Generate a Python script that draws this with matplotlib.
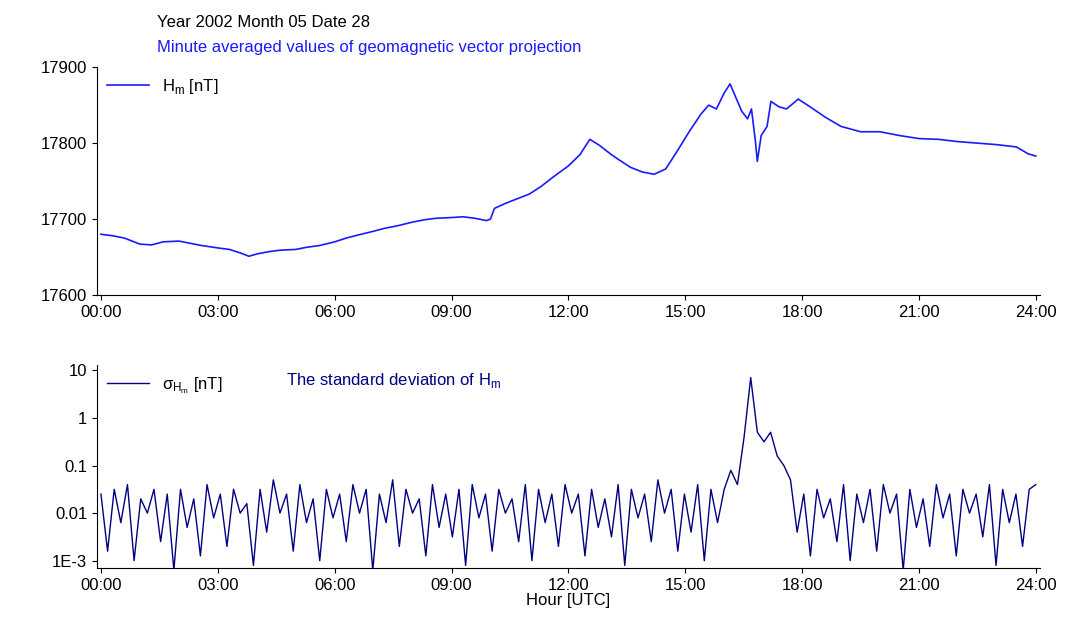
import matplotlib.pyplot as plt
import numpy as np

plt.rcParams['font.family'] = ['Liberation Sans', 'DejaVu Sans']

# top panel: H component, key readings (hour, nT)
h_hours = [0, 0.3, 0.6, 1, 1.3, 1.6, 2, 2.3, 2.6, 3, 3.3, 3.6, 3.8, 4, 4.3, 4.6, 5, 5.3, 5.6, 6,
           6.3, 6.6, 7, 7.3, 7.6, 8, 8.3, 8.6, 9, 9.3, 9.6, 9.9, 10.0, 10.1, 10.4, 10.7, 11, 11.3,
           11.6, 12, 12.3, 12.55, 12.8, 13.1, 13.3, 13.6, 13.9, 14.2, 14.5, 14.8, 15.1, 15.4,
           15.6, 15.8, 16.0, 16.15, 16.3, 16.45, 16.6, 16.7, 16.8, 16.85, 16.95, 17.1, 17.2,
           17.4, 17.6, 17.9, 18.2, 18.6, 19, 19.5, 20, 20.5, 21, 21.5, 22, 22.5, 23, 23.5, 23.8, 24]
h_vals = [17680, 17678, 17675, 17667, 17666, 17670, 17671, 17668, 17665, 17662, 17660, 17655,
          17651, 17654, 17657, 17659, 17660, 17663, 17665, 17670, 17675, 17679, 17684, 17688,
          17691, 17696, 17699, 17701, 17702, 17703, 17701, 17698, 17700, 17714, 17721, 17727,
          17733, 17743, 17755, 17770, 17785, 17805, 17797, 17785, 17778, 17768, 17762, 17759,
          17766, 17790, 17815, 17838, 17850, 17845, 17866, 17878, 17860, 17842, 17832, 17845,
          17803, 17776, 17810, 17822, 17855, 17848, 17845, 17858, 17848, 17834, 17822, 17815,
          17815, 17810, 17806, 17805, 17802, 17800, 17798, 17795, 17786, 17783]

# bottom panel: standard deviation, log10 readings every 10 min
sd_log = [-1.6, -2.8, -1.5, -2.2, -1.4, -3.0, -1.7, -2.0, -1.5, -2.6, -1.6, -3.2, -1.5, -2.3,
          -1.7, -2.9, -1.4, -2.1, -1.6, -2.7, -1.5, -2.0, -1.8, -3.1, -1.5, -2.4, -1.3, -2.0,
          -1.6, -2.8, -1.4, -2.2, -1.7, -3.0, -1.5, -2.1, -1.6, -2.6, -1.4, -2.0, -1.5, -3.2,
          -1.6, -2.2, -1.3, -2.7, -1.5, -2.0, -1.7, -2.9, -1.4, -2.3, -1.6, -2.5, -1.5, -3.1,
          -1.4, -2.1, -1.6, -2.8, -1.5, -2.0, -1.7, -2.6, -1.4, -3.0, -1.5, -2.2, -1.6, -2.7,
          -1.4, -2.0, -1.6, -2.9, -1.5, -2.3, -1.7, -2.5, -1.4, -3.1, -1.5, -2.1, -1.6, -2.6,
          -1.3, -2.0, -1.5, -2.8, -1.6, -2.4, -1.4, -3.0, -1.5, -2.2,
          -1.5, -1.1, -1.4, -0.4, 0.85, -0.3, -0.5, -0.3, -0.8, -1.0, -1.3, -2.4, -1.6, -2.9,
          -1.5, -2.1, -1.7, -2.6, -1.4, -3.0, -1.6, -2.2, -1.5, -2.8, -1.4, -2.0, -1.6, -3.2,
          -1.5, -2.3, -1.7, -2.7, -1.4, -2.1, -1.6, -2.9, -1.5, -2.0, -1.6, -2.5, -1.4, -3.1,
          -1.5, -2.2, -1.6, -2.7, -1.5, -1.4]

ticks = np.arange(0, 25, 3)
tick_labels = ['%02d:00' % t for t in ticks]

fig = plt.figure(figsize=(10.7, 6.31), dpi=100)
ax1 = fig.add_axes([0.0907, 0.5325, 0.881, 0.361])
ax2 = fig.add_axes([0.0907, 0.0998, 0.881, 0.3217])

ax1.plot(h_hours, h_vals, color='#1a1aff', lw=1.2, label=r'H$_{\mathregular{m}}$ [nT]')
ax1.set_ylim(17600, 17900)
ax1.set_yticks([17600, 17700, 17800, 17900])

sd_hours = np.linspace(0, 24, len(sd_log))
ax2.plot(sd_hours, 10 ** np.array(sd_log), color='#000080', lw=1.0,
         label=r'$\mathregular{\sigma_{H_m}}$ [nT]')
ax2.set_yscale('log')
ax2.set_ylim(7e-4, 13)
ax2.set_yticks([1e-3, 1e-2, 1e-1, 1, 10])
ax2.set_yticklabels(['1E-3', '0.01', '0.1', '1', '10'])
ax2.minorticks_off()
ax2.set_xlabel('Hour [UTC]', fontsize=12, labelpad=0)
ax2.text(0.20, 0.97, r'The standard deviation of H$_{\mathregular{m}}$', color='#000080',
         fontsize=12, transform=ax2.transAxes, va='top')

for ax in (ax1, ax2):
    ax.set_xlim(-0.1, 24.1)
    ax.set_xticks(ticks)
    ax.set_xticklabels(tick_labels)
    ax.tick_params(labelsize=12, direction='out')
    ax.spines['top'].set_visible(False)
    ax.spines['right'].set_visible(False)
    ax.legend(loc='upper left', frameon=False, fontsize=12, handlelength=2.5,
              borderaxespad=0.2)

fig.text(0.147, 0.965, 'Year 2002 Month 05 Date 28', fontsize=12, va='center')
fig.text(0.147, 0.925, 'Minute averaged values of geomagnetic vector projection',
         fontsize=12, color='#1a1aff', va='center')

fig.savefig('out.png')
